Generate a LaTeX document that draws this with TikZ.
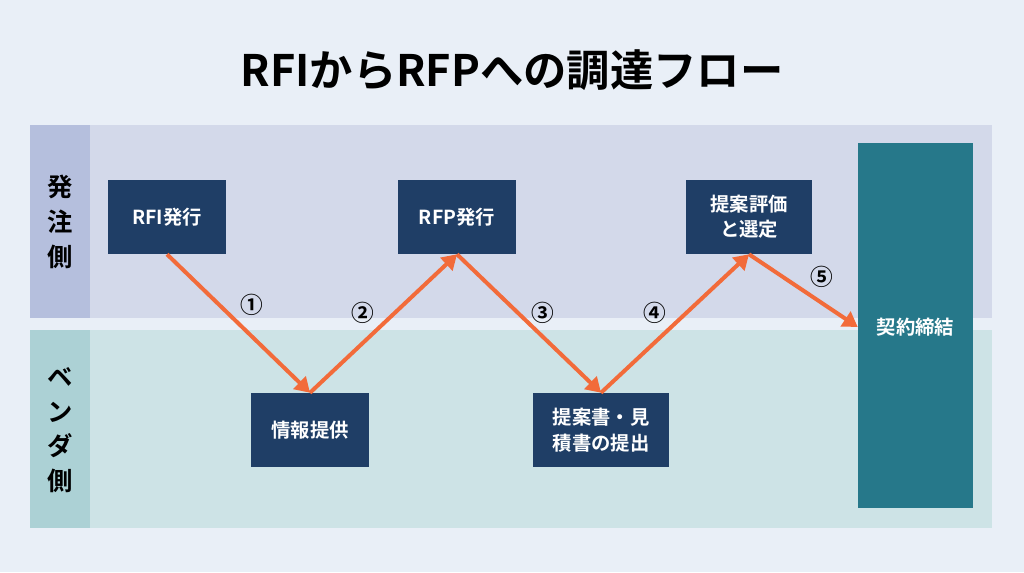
\documentclass[tikz,border=0pt]{standalone}
\usepackage{fontspec}
\setmainfont{Noto Sans CJK JP}[BoldFont={* Bold}]
\usetikzlibrary{arrows.meta}
\definecolor{bgc}{HTML}{E9EFF7}
\definecolor{lanetop}{HTML}{D3D9EA}
\definecolor{labtop}{HTML}{B5BFDD}
\definecolor{lanebot}{HTML}{CDE3E6}
\definecolor{labbot}{HTML}{ACD1D5}
\definecolor{navy}{HTML}{1F3E66}
\definecolor{tealc}{HTML}{26788A}
\definecolor{flow}{HTML}{F26B3A}
\tikzset{
  stepbox/.style={fill=navy,text=white,font=\bfseries\fontsize{14.5}{19}\selectfont,align=center,inner sep=0pt},
  flowarrow/.style={draw=flow,line width=3pt,-{Triangle[length=11pt,width=13pt]}},
  num/.style={font=\bfseries\fontsize{17}{17}\selectfont}
}
\begin{document}
\begin{tikzpicture}[x=0.75pt,y=-0.75pt]

	\fill[bgc] (0,0) rectangle (1024,572); %background
	\node[font=\bfseries\fontsize{32.5}{36}\selectfont] (title) at (512,70) {RFIからRFPへの調達フロー};

	%lanes
	\fill[lanetop] (30,125) rectangle (992,318);
	\fill[labtop] (30,125) rectangle (90,318);
	\fill[lanebot] (30,330) rectangle (992,528);
	\fill[labbot] (30,330) rectangle (90,528);
	\node[font=\bfseries\fontsize{19}{26}\selectfont,align=center] (buyer) at (60,222) {発\\注\\側};
	\node[font=\bfseries\fontsize{19}{26}\selectfont,align=center] (vendor) at (60,430) {ベ\\ン\\ダ\\側};

	%steps
	\node[stepbox,minimum width=118*0.75pt,minimum height=74*0.75pt] (rfi) at (167,217) {RFI発行};
	\node[stepbox,minimum width=118*0.75pt,minimum height=74*0.75pt] (info) at (310,430) {情報提供};
	\node[stepbox,minimum width=118*0.75pt,minimum height=74*0.75pt] (rfp) at (457,217) {RFP発行};
	\node[stepbox,minimum width=136*0.75pt,minimum height=74*0.75pt] (prop) at (601,430) {提案書・見\\積書の提出};
	\node[stepbox,minimum width=126*0.75pt,minimum height=74*0.75pt] (eval) at (749,217) {提案評価\\と選定};
	\node[stepbox,fill=tealc,minimum width=115*0.75pt,minimum height=365*0.75pt] (deal) at (915.5,325.5) {};
	\node[text=white,font=\bfseries\fontsize{14.5}{19}\selectfont] (dealtext) at (915.5,327) {契約締結};

	%arrows
	\draw[flowarrow] (rfi.south) -- (info.north);
	\draw[flowarrow] (info.north) -- (rfp.south);
	\draw[flowarrow] (rfp.south) -- (prop.north);
	\draw[flowarrow] (prop.north) -- (eval.south);
	\draw[flowarrow] (eval.south) -- (deal.west |- dealtext);

	%numbers
	\node[num] (n1) at (252,305) {①};
	\node[num] (n2) at (363,313) {②};
	\node[num] (n3) at (543,313) {③};
	\node[num] (n4) at (655,313) {④};
	\node[num] (n5) at (822,277) {⑤};
\end{tikzpicture}
\end{document}
